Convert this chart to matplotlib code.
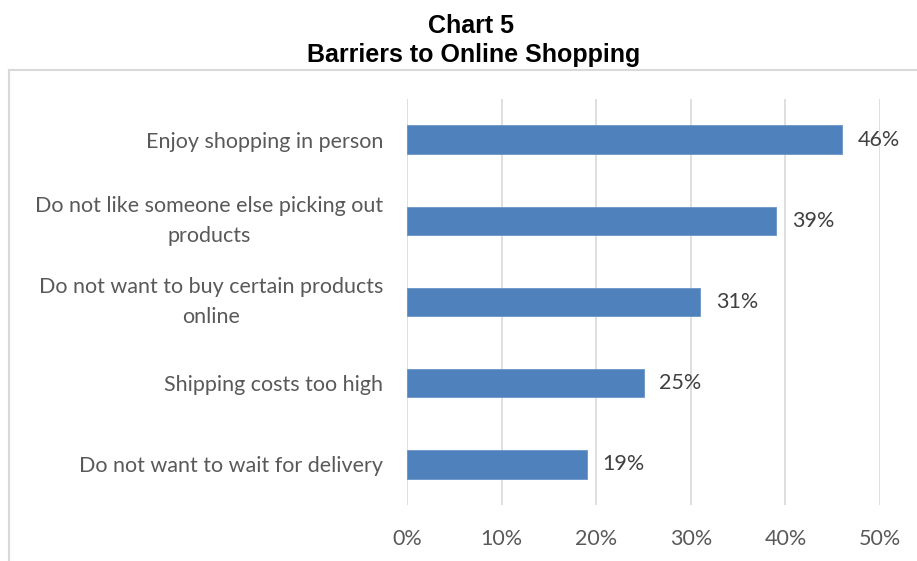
import matplotlib.pyplot as plt
from matplotlib.lines import Line2D

# Survey results, top bar first
reasons = [
  "Enjoy shopping in person",
  "Do not like someone else picking out\nproducts",
  "Do not want to buy certain products\nonline",
  "Shipping costs too high",
  "Do not want to wait for delivery",
]
shares = [46, 39, 31, 25, 19]
x_ticks = [0, 10, 20, 30, 40, 50]

BAR_COLOR = "#4F81BD"
GRID_COLOR = "#D9D9D9"

fig = plt.figure(figsize=(9.17, 5.61), dpi=100)
ax = fig.add_axes([407 / 917, 56 / 561, 473 / 917, 406 / 561])

y = list(range(len(reasons)))[::-1]
ax.barh(y, shares, height=0.35, color=BAR_COLOR, edgecolor="#6A94C8", linewidth=0.6, zorder=3)

for yi, v in zip(y, shares):
  ax.annotate(f"{v}%", (v, yi), xytext=(11.5, 0), textcoords="offset points",
              va="center", ha="left", fontsize=15.5, color="#404040", family="Lato")

ax.set_xlim(0, 50)
ax.set_ylim(-0.5, len(reasons) - 0.5)
ax.set_xticks(x_ticks)
ax.set_xticklabels([f"{t}%" for t in x_ticks])
ax.set_yticks(y)
ax.set_yticklabels(reasons)

ax.grid(axis="x", color=GRID_COLOR, linewidth=1.2, zorder=0)
ax.tick_params(axis="both", length=0, labelsize=15.5, labelcolor="#595959")
ax.tick_params(axis="y", pad=17)
ax.tick_params(axis="x", pad=17)
for lbl in ax.get_xticklabels() + ax.get_yticklabels():
  lbl.set_family("Lato")
for lbl in ax.get_yticklabels():
  lbl.set_multialignment("center")
  lbl.set_linespacing(1.6)
  # wrapped labels sit centred on their bar
  if "\n" in lbl.get_text():
    lbl.set_verticalalignment("center")
for s in ax.spines.values():
  s.set_visible(False)

# chart frame (left and top edges only are in view)
fig.add_artist(Line2D([9 / 917, 9 / 917], [0, 1 - 70 / 561], color=GRID_COLOR, linewidth=1.5))
fig.add_artist(Line2D([9 / 917, 1], [1 - 70 / 561, 1 - 70 / 561], color=GRID_COLOR, linewidth=1.5))

fig.text(471 / 917, 1 - 33 / 561, "Chart 5", ha="center", va="baseline",
         fontsize=18, fontweight="bold", family="Liberation Sans")
fig.text(474 / 917, 1 - 62 / 561, "Barriers to Online Shopping", ha="center", va="baseline",
         fontsize=18, fontweight="bold", family="Liberation Sans")

fig.savefig("out.png", dpi=100)
